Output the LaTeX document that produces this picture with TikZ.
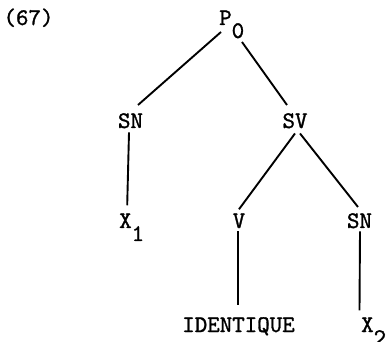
\documentclass[tikz,border=0pt]{standalone}
\usepackage{fontspec}
\newfontfamily\typew{lmmono10-regular.otf}[FakeBold=1.2]
\tikzset{
  tx/.style={font=\typew\fontsize{23.8}{27}\selectfont, inner sep=0pt},
  branch/.style={line width=1.9pt}
}
\newcommand{\lowsub}[1]{\raisebox{-13pt}{#1}}

\begin{document}
\begin{tikzpicture}[x=1pt, y=-1pt]
\useasboundingbox (0,0) rectangle (386,342);

\node [tx, anchor=base] (ex) at (28.5,25) {(67)};
\node [tx, anchor=base west] (p) at (219,25) {P\lowsub{0}};

\node [tx, anchor=base] (snl) at (130.5,128) {SN};
\node [tx, anchor=base] (sv) at (295,128) {SV};

\node [tx, anchor=base west] (xa) at (119,228) {X\lowsub{1}};
\node [tx, anchor=base] (v) at (239,228) {V};
\node [tx, anchor=base] (snr) at (359.5,228) {SN};

\node [tx, anchor=base] (ident) at (238.5,332) {IDENTIQUE};
\node [tx, anchor=base west] (xb) at (361,332) {X\lowsub{2}};

\draw [branch] ([shift={(2,7)}]p.base west) -- ([shift={(7.5,-8)}]snl.north);
\draw [branch] ([shift={(23,17)}]p.base west) -- ([shift={(-8,-8)}]sv.north);

\draw [branch] ([shift={(-1.5,4)}]snl.south) -- ([shift={(-4.5,-8)}]xa.north);
\draw [branch] ([shift={(0,5)}]sv.south) -- ([shift={(0,-4)}]v.north);
\draw [branch] ([shift={(5,5)}]sv.south) -- ([shift={(-1.5,-6)}]snr.north);

\draw [branch] ([shift={(-1,3)}]v.south) -- ([shift={(-0.5,-12)}]ident.north);
\draw [branch] ([shift={(0.5,3)}]snr.south) -- ([shift={(0,-7)}]xb.north -| snr.south);

\end{tikzpicture}
\end{document}
